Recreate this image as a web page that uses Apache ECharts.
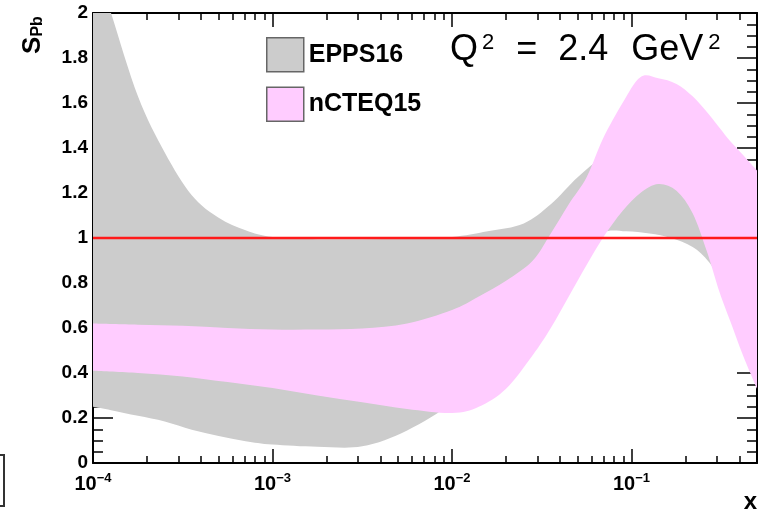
<!DOCTYPE html>
<html>
<head>
<meta charset="utf-8">
<script src="https://cdn.jsdelivr.net/npm/echarts@6/dist/echarts.min.js"></script>
<style>
  html, body { margin: 0; padding: 0; background: #fff; }
  #chart { width: 769px; height: 512px; }
</style>
</head>
<body>
<div id="chart"></div>
<script>
// EPPS16 band edges
const eppsX = [1e-4, 1.26e-4, 1.78e-4, 2.51e-4, 3.55e-4, 5.01e-4, 7.08e-4, 1e-3, 1.78e-3, 3.16e-3, 5.62e-3,
  1e-2, 1.58e-2, 2.51e-2, 3.55e-2, 5.01e-2, 6.92e-2, 9.33e-2, 0.126, 0.166, 0.219, 0.272, 0.355, 0.5];
const eppsUpper = [2.25, 2.0, 1.63, 1.38, 1.19, 1.09, 1.035, 1.005, 0.995, 0.995, 0.998,
  1.005, 1.03, 1.065, 1.15, 1.27, 1.36, 1.4, 1.38, 1.33, 1.25, 1.15, 1.05, 0.95];
const eppsLower = [0.25, 0.235, 0.21, 0.185, 0.148, 0.12, 0.097, 0.082, 0.072, 0.074, 0.145,
  0.27, 0.45, 0.68, 0.82, 0.94, 1.025, 1.03, 1.02, 1.0, 0.96, 0.89, 0.75, 0.6];

// nCTEQ15 band edges
const ncteqX = [1e-4, 1.78e-4, 3.16e-4, 5.62e-4, 1e-3, 1.78e-3, 3.16e-3, 5.62e-3, 1e-2, 1.41e-2, 2e-2,
  2.82e-2, 3.55e-2, 4.47e-2, 5.62e-2, 6.92e-2, 8.91e-2, 0.112, 0.141, 0.178, 0.219, 0.263, 0.309, 0.355, 0.417, 0.5];
const ncteqUpper = [0.62, 0.615, 0.61, 0.6, 0.593, 0.593, 0.598, 0.62, 0.68, 0.74, 0.81,
  0.9, 1.02, 1.15, 1.27, 1.44, 1.6, 1.715, 1.71, 1.685, 1.63, 1.56, 1.49, 1.43, 1.37, 1.3];
const ncteqLower = [0.41, 0.4, 0.385, 0.36, 0.333, 0.3, 0.27, 0.24, 0.222, 0.25, 0.33,
  0.48, 0.6, 0.74, 0.88, 1.0, 1.12, 1.2, 1.24, 1.21, 1.11, 0.94, 0.76, 0.63, 0.48, 0.33];

const refLevel = 1;
const xRange = [1e-4, 0.5];
const xMajorTicks = [1e-4, 1e-3, 1e-2, 1e-1];
const xMinorTicks = [2e-4, 3e-4, 4e-4, 5e-4, 6e-4, 7e-4, 8e-4, 9e-4,
  2e-3, 3e-3, 4e-3, 5e-3, 6e-3, 7e-3, 8e-3, 9e-3,
  2e-2, 3e-2, 4e-2, 5e-2, 6e-2, 7e-2, 8e-2, 9e-2,
  2e-1, 3e-1, 4e-1];

const FONT = '"Liberation Sans", Arial, Helvetica, sans-serif';
const GREY = '#cccccc';
const PINK = '#ffccff';

const chart = echarts.init(document.getElementById('chart'));

// Catmull-Rom through pixel points, written as cubic beziers
function spline(pts, cmd) {
  let d = cmd + pts[0][0] + ' ' + pts[0][1];
  for (let i = 0; i < pts.length - 1; i++) {
    const p0 = pts[Math.max(i - 1, 0)], p1 = pts[i], p2 = pts[i + 1], p3 = pts[Math.min(i + 2, pts.length - 1)];
    const c1x = p1[0] + (p2[0] - p0[0]) / 6, c1y = p1[1] + (p2[1] - p0[1]) / 6;
    const c2x = p2[0] - (p3[0] - p1[0]) / 6, c2y = p2[1] - (p3[1] - p1[1]) / 6;
    d += ' C' + c1x + ' ' + c1y + ' ' + c2x + ' ' + c2y + ' ' + p2[0] + ' ' + p2[1];
  }
  return d;
}

function bandSeries(name, xs, lo, hi, color) {
  return {
    name: name, type: 'custom', xAxisIndex: 0, yAxisIndex: 0,
    clip: true, silent: true, color: color,
    data: xs.map((x, i) => [x, lo[i], hi[i]]),
    encode: { x: 0, y: [1, 2] },
    renderItem: (params, api) => {
      if (params.dataIndex !== 0) return;
      const top = xs.map((x, i) => api.coord([x, hi[i]]));
      const bot = xs.map((x, i) => api.coord([x, lo[i]])).reverse();
      return {
        type: 'path',
        shape: { pathData: spline(top, 'M') + ' ' + spline(bot, 'L') + ' Z' },
        style: { fill: color, stroke: null }
      };
    }
  };
}

const gridBox = { left: 93, right: 12, top: 13, bottom: 49 };

function xAxisOf(grid, pos, ticks, len, opts) {
  return Object.assign({
    type: 'log', gridIndex: grid, position: pos, min: xRange[0], max: xRange[1],
    axisLine: { show: false },
    axisTick: { inside: true, length: len, customValues: ticks, lineStyle: { color: '#000', width: 1.5 } },
    axisLabel: { show: false },
    splitLine: { show: false }
  }, opts || {});
}

function yAxisOf(pos, showLabel) {
  return {
    type: 'value', gridIndex: 0, position: pos, min: 0, max: 2, interval: 0.2,
    axisLine: { show: true, lineStyle: { color: '#000', width: 2 } },
    axisTick: { inside: true, length: 20, lineStyle: { color: '#000', width: 1.5 } },
    minorTick: { show: true, splitNumber: 4, length: 10, lineStyle: { color: '#000', width: 1.5 } },
    axisLabel: {
      show: showLabel, margin: 5, color: '#000',
      fontFamily: FONT, fontWeight: 'bold', fontSize: 19
    },
    splitLine: { show: false },
    minorSplitLine: { show: false }
  };
}

const option = {
  animation: false,
  backgroundColor: '#fff',
  grid: [gridBox, Object.assign({}, gridBox)],
  xAxis: [
    xAxisOf(0, 'bottom', xMajorTicks, 14, {
      axisLine: { show: true, onZero: false, lineStyle: { color: '#000', width: 2 } },
      axisLabel: {
        show: true, margin: 9, customValues: xMajorTicks,
        formatter: v => '{b|10}{s|\u2212' + Math.round(-Math.log10(v)) + '}',
        rich: {
          b: { fontFamily: FONT, fontWeight: 'bold', fontSize: 20, lineHeight: 24, color: '#000' },
          s: { fontFamily: FONT, fontWeight: 'bold', fontSize: 13, lineHeight: 6, verticalAlign: 'top', color: '#000' }
        }
      }
    }),
    xAxisOf(0, 'top', xMajorTicks, 14, {
      axisLine: { show: true, onZero: false, lineStyle: { color: '#000', width: 2 } }
    }),
    xAxisOf(1, 'bottom', xMinorTicks, 7),
    xAxisOf(1, 'top', xMinorTicks, 7)
  ],
  yAxis: [
    yAxisOf('left', true),
    yAxisOf('right', false),
    { type: 'value', gridIndex: 1, min: 0, max: 2, show: false }
  ],
  legend: {
    orient: 'vertical', left: 261, top: 32,
    itemWidth: 37, itemHeight: 34, itemGap: 14,
    selectedMode: false,
    itemStyle: { borderColor: '#666', borderWidth: 1.5 },
    textStyle: { fontFamily: FONT, fontWeight: 'bold', fontSize: 25, color: '#000' },
    data: [
      { name: 'EPPS16', icon: 'rect', itemStyle: { color: GREY } },
      { name: 'nCTEQ15', icon: 'rect', itemStyle: { color: PINK } }
    ]
  },
  series: [
    bandSeries('EPPS16', eppsX, eppsLower, eppsUpper, GREY),
    bandSeries('nCTEQ15', ncteqX, ncteqLower, ncteqUpper, PINK),
    {
      name: 'unity', type: 'line', xAxisIndex: 0, yAxisIndex: 0,
      data: xRange.map(x => [x, refLevel]), symbol: 'none',
      lineStyle: { color: '#ff1a1a', width: 2.5 }, silent: true
    }
  ],
  graphic: [
    {
      type: 'text', x: 450, y: 32,
      style: {
        text: '{q|Q}{s|2}{e|=}{n|2.4}{g|GeV}{t|2}',
        verticalAlign: 'top',
        rich: {
          q: { fontFamily: FONT, fontSize: 36, lineHeight: 36, fill: '#000' },
          s: { fontFamily: FONT, fontSize: 22, lineHeight: 24, verticalAlign: 'top', padding: [0, 0, 0, 4], fill: '#000' },
          e: { fontFamily: FONT, fontSize: 36, lineHeight: 36, padding: [0, 0, 0, 22], fill: '#000' },
          n: { fontFamily: FONT, fontSize: 36, lineHeight: 36, padding: [0, 0, 0, 21], fill: '#000' },
          g: { fontFamily: FONT, fontSize: 36, lineHeight: 36, padding: [0, 0, 0, 23], fill: '#000' },
          t: { fontFamily: FONT, fontSize: 22, lineHeight: 24, verticalAlign: 'top', padding: [0, 0, 0, 5], fill: '#000' }
        }
      }
    },
    {
      type: 'text', x: 33, y: 35, rotation: Math.PI / 2,
      style: {
        text: '{s|S}{p|Pb}', align: 'center', verticalAlign: 'middle',
        rich: {
          s: { fontFamily: FONT, fontWeight: 'bold', fontSize: 26, lineHeight: 26, fill: '#000' },
          p: { fontFamily: FONT, fontWeight: 'bold', fontSize: 16, lineHeight: 16, verticalAlign: 'bottom', fill: '#000' }
        }
      }
    },
    {
      type: 'text', x: 757, y: 502,
      style: {
        text: 'x', align: 'right', verticalAlign: 'middle',
        font: 'bold 24px ' + FONT, fill: '#000'
      }
    },
    {
      type: 'polyline',
      shape: { points: [[0, 455], [4, 455], [4, 506], [0, 506]] },
      style: { stroke: '#333', lineWidth: 2, fill: null }
    }
  ]
};

chart.setOption(option);
</script>
</body>
</html>
